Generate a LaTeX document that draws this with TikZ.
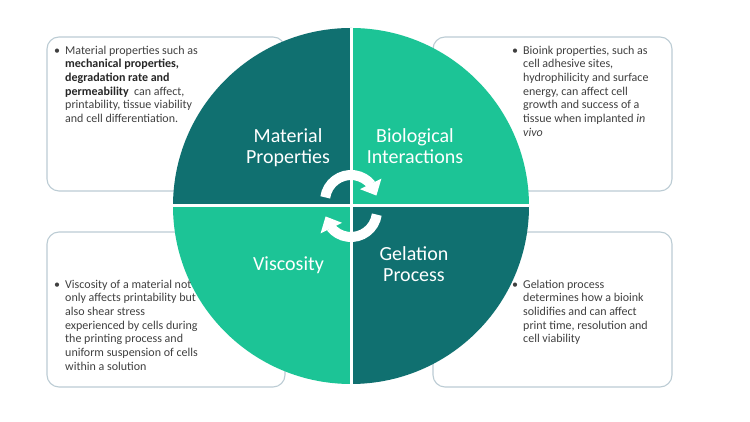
\documentclass[tikz,border=0pt]{standalone}
\usepackage{fontspec}
\setmainfont{Carlito}
\usetikzlibrary{arrows.meta,bending}
\definecolor{darkteal}{RGB}{16,112,112}
\definecolor{lightgreen}{RGB}{28,196,150}
\definecolor{boxline}{RGB}{188,204,212}
\definecolor{txtgray}{RGB}{64,64,64}
\definecolor{txtdark}{RGB}{38,38,38}
\tikzset{
  lbl/.style={text=white, font=\fontsize{20}{21}\selectfont, align=center, inner sep=0pt},
  txt/.style={text=txtgray, font=\fontsize{12}{13.7}\selectfont, align=left, inner sep=0pt, anchor=north west},
  infobox/.style={draw=boxline, line width=1.1pt, rounded corners=12pt, fill=white},
  cyclearrow/.style={draw=white, line width=10pt, -{Triangle[width=23pt,length=13pt]}},
  divider/.style={draw=white, line width=3pt}
}
\newcommand{\bul}{\llap{\textbullet\hspace{5pt}}}
\newcommand{\fs}{\rule{0pt}{10.5pt}}
\newcommand{\ls}{\rule{0pt}{16pt}}
\begin{document}
\begin{tikzpicture}[x=1pt,y=1pt]
\useasboundingbox (0,0) rectangle (750,422);
\fill[white] (0,0) rectangle (750,422);
% info boxes
\draw[infobox] (47,231) rectangle (285,385);
\draw[infobox] (433,231) rectangle (672,385);
\draw[infobox] (47,35) rectangle (285,190);
\draw[infobox] (433,35) rectangle (672,190);
% circle quadrants
\coordinate (c) at (351,216);
\fill[darkteal]   (c) -- ++(90:178) arc[start angle=90, end angle=180, radius=178] -- cycle;
\fill[lightgreen] (c) -- ++(0:178) arc[start angle=0, end angle=90, radius=178] -- cycle;
\fill[lightgreen] (c) -- ++(180:178) arc[start angle=180, end angle=270, radius=178] -- cycle;
\fill[darkteal]   (c) -- ++(270:178) arc[start angle=270, end angle=360, radius=178] -- cycle;
\coordinate (ctop) at (351,394);
\coordinate (cbot) at (351,38);
\coordinate (cleft) at (173,216);
\coordinate (cright) at (529,216);
\draw[divider] (ctop) -- (cbot);
\draw[divider] (cleft) -- (cright);
% cycle arrows
\coordinate (a1) at (351,221);
\coordinate (a2) at (351,211);
\draw[cyclearrow] ([shift={(172:26)}]a1) arc[start angle=172, end angle=12, radius=26];
\draw[cyclearrow] ([shift={(-8:26)}]a2) arc[start angle=-8, end angle=-168, radius=26];
% labels
\node[lbl, anchor=north] (mp) at (288,296) {\ls Material\\Properties};
\node[lbl, anchor=north] (bi) at (415,296) {\ls Biological\\Interactions};
\node[lbl, anchor=base] (vi) at (288.5,151) {Viscosity};
\node[lbl, anchor=north] (gp) at (414,178) {\ls Gelation\\Process};
% box texts
\node[txt] (t1) at (65,378.5) {\bul\fs Material properties such as\\
\textcolor{txtdark}{\textbf{mechanical properties,}}\\
\textcolor{txtdark}{\textbf{degradation rate and}}\\
\textcolor{txtdark}{\textbf{permeability}}\ \ can affect,\\
printability, tissue viability\\
and cell differentiation.};
\node[txt] (t2) at (523,378.5) {\bul\fs Bioink properties, such as\\
cell adhesive sites,\\
hydrophilicity and surface\\
energy, can affect cell\\
growth and success of a\\
tissue when implanted \textit{in}\\
\textit{vivo}};
\node[txt] (t3) at (65,144.5) {\bul\fs Viscosity of a material not\\
only affects printability but\\
also shear stress\\
experienced by cells during\\
the printing process and\\
uniform suspension of cells\\
within a solution};
\node[txt] (t4) at (523,144.5) {\bul\fs Gelation process\\
determines how a bioink\\
solidifies and can affect\\
print time, resolution and\\
cell viability};
\end{tikzpicture}
\end{document}
